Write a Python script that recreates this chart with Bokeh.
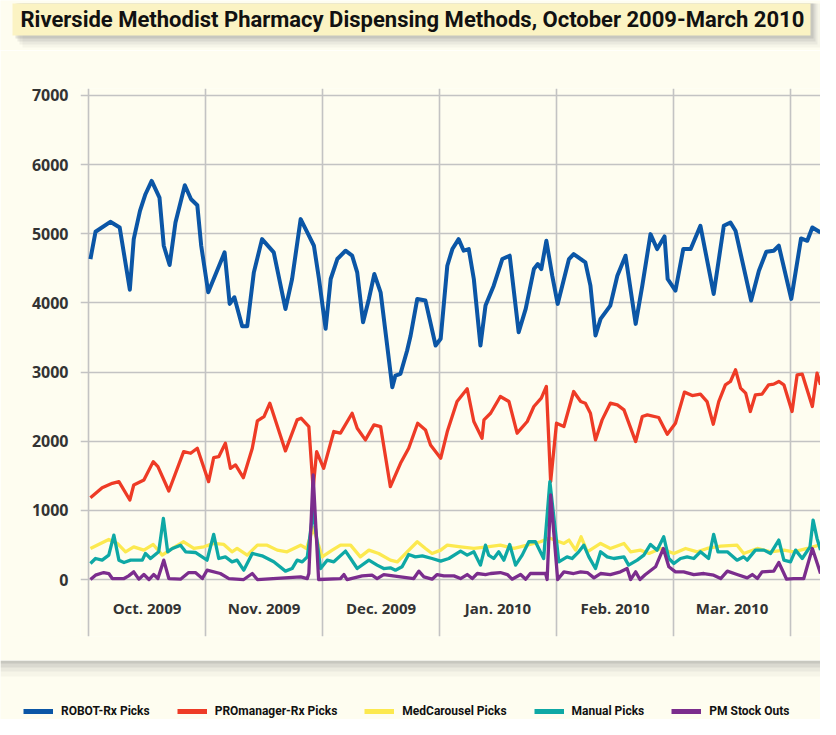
from bokeh.plotting import figure
from bokeh.layouts import column
from bokeh.models import Range1d, FixedTicker, Legend, LegendItem, ColumnDataSource
from bokeh.core.properties import value
from bokeh.embed import file_html
from bokeh.resources import INLINE

TITLE = "Riverside Methodist Pharmacy Dispensing Methods, October 2009-March 2010"
MONTHS = ["Oct. 2009", "Nov. 2009", "Dec. 2009", "Jan. 2010", "Feb. 2010", "Mar. 2010"]
Y_TICKS = [0, 1000, 2000, 3000, 4000, 5000, 6000, 7000]
SERIES = ["ROBOT-Rx Picks", "PROmanager-Rx Picks", "MedCarousel Picks", "Manual Picks", "PM Stock Outs"]

# x = day index (30-day gridline spacing, day 0 = start of October 2009)
robot_day = [0.5,1.8,5.6,8.0,10.6,11.6,13.2,14.6,16.2,18.2,
             19.3,20.8,22.3,24.7,26.3,27.9,28.9,30.7,34.9,36.2,
             37.4,39.4,40.7,42.4,44.5,47.5,50.5,52.2,54.4,56.1,
             57.8,59.1,60.8,62.1,63.8,65.9,67.6,68.9,70.4,71.9,
             73.3,74.9,77.9,78.7,80.0,81.7,82.6,84.3,86.4,89.0,
             90.3,92.0,93.3,94.9,96.2,97.5,98.8,100.5,101.8,103.9,
             106.1,108.0,110.3,112.1,114.2,115.2,116.1,117.4,118.9,120.3,
             123.2,124.4,127.4,128.7,130.0,131.3,133.8,135.6,137.7,140.3,
             142.0,144.1,145.8,147.7,148.5,150.5,152.5,154.4,156.9,160.3,
             162.9,164.6,165.9,169.9,171.9,173.8,175.7,177.0,180.2,182.7,
             184.3,185.6,187.7]
robot_val = [4635,5029,5173,5091,4192,4923,5332,5572,5764,5524,
             4827,4548,5163,5702,5500,5413,4827,4154,4731,3986,
             4082,3663,3663,4442,4923,4731,3913,4346,5212,5019,
             4827,4346,3625,4346,4635,4755,4683,4442,3721,4058,
             4418,4154,2780,2950,2975,3312,3529,4058,4034,3385,
             3481,4538,4779,4923,4755,4779,4346,3385,3962,4250,
             4635,4683,3577,3913,4490,4563,4490,4899,4394,3986,
             4635,4707,4587,4250,3529,3769,3962,4394,4683,3697,
             4250,4995,4779,4962,4346,4178,4779,4779,5115,4130,
             5115,5163,5043,4034,4466,4740,4755,4827,4058,4933,
             4899,5091,5019]

pro_day = [0.5,3.5,6.1,7.8,10.6,11.6,14.2,16.6,17.8,20.6,
           24.4,26.2,27.9,30.8,32.1,33.4,35.1,36.4,37.7,39.7,
           42.0,43.3,45.0,46.5,50.5,53.5,54.5,56.5,57.6,58.5,
           60.3,62.9,64.6,67.6,68.9,71.0,73.2,74.9,77.4,80.0,
           82.1,84.4,86.4,87.7,90.3,92.0,94.5,97.1,98.8,100.9,
           101.4,103.1,105.6,107.8,109.9,112.5,114.2,116.1,117.4,118.5,
           120.0,121.9,124.4,126.2,127.4,128.7,130.0,131.7,133.8,135.6,
           137.3,140.3,142.0,143.3,146.2,148.4,150.5,152.8,154.8,156.9,
           158.6,160.2,161.6,163.3,164.6,165.9,167.2,168.5,169.7,171.0,
           172.7,174.4,175.7,177.0,178.3,180.4,181.7,183.0,185.6,186.8,
           187.7]
pro_val = [1183,1328,1391,1415,1150,1367,1439,1705,1633,1280,
           1850,1826,1898,1415,1763,1777,1971,1608,1657,1473,
           1898,2294,2357,2550,1860,2309,2333,2212,1319,1850,
           1608,2140,2116,2405,2188,2019,2236,2212,1343,1681,
           1898,2260,2164,1946,1753,2140,2574,2758,2285,2043,
           2309,2405,2647,2574,2116,2285,2502,2623,2792,1415,
           2260,2212,2719,2574,2550,2405,2019,2309,2550,2526,
           2454,1995,2357,2381,2343,2101,2260,2710,2661,2681,
           2574,2246,2574,2816,2864,3033,2768,2695,2430,2671,
           2681,2816,2826,2864,2816,2430,2961,2971,2502,2985,
           2816]

med_day = [0.5,3.1,5.2,7.4,9.5,11.6,14.2,16.6,18.9,21.5,
           24.4,27.0,29.6,32.1,34.7,36.8,38.1,40.7,43.3,45.8,
           48.4,50.9,54.4,55.9,57.6,59.9,62.5,64.6,67.2,69.7,
           71.9,74.4,77.4,79.2,81.7,84.3,86.4,88.1,90.3,92.0,
           95.4,98.8,102.2,105.6,109.1,112.5,115.9,118.2,121.9,123.2,
           124.9,126.3,127.9,131.3,133.8,137.3,139.0,141.5,143.7,146.7,
           150.1,153.1,156.1,158.6,162.1,166.3,168.0,171.5,174.9,178.3,
           180.8,184.3,187.3]
med_val = [449,522,580,522,401,473,425,507,353,449,
           546,449,473,522,507,401,449,353,497,497,
           425,401,497,449,750,328,425,497,497,328,
           425,377,280,256,401,546,449,377,425,497,
           473,449,473,497,449,497,546,600,522,570,
           425,618,401,522,449,522,401,425,377,449,
           377,449,401,449,483,497,377,449,401,425,
           401,449,497]

man_day = [0.5,1.8,3.5,5.2,6.5,7.8,9.1,10.8,13.8,14.6,
           15.9,18.0,19.2,20.3,21.5,23.6,24.9,27.4,30.4,32.1,
           33.4,35.1,36.8,38.1,39.8,42.0,44.5,47.5,50.5,52.2,
           53.5,54.8,56.1,57.6,59.5,61.2,62.9,65.9,67.2,68.9,
           71.9,74.0,75.7,77.4,78.7,80.4,82.1,83.8,85.6,88.1,
           90.3,92.4,95.4,97.1,98.8,100.5,101.8,102.6,103.9,105.2,
           106.5,108.0,109.5,111.2,112.9,114.6,116.7,118.3,120.6,122.7,
           124.0,125.7,127.0,128.3,130.0,131.3,133.0,134.7,137.3,138.5,
           140.7,142.4,144.1,145.8,147.5,148.8,150.1,151.8,153.5,155.2,
           156.9,159.0,160.3,161.4,163.8,166.3,168.0,168.9,171.0,173.2,
           174.9,177.0,178.3,180.0,181.3,183.0,185.0,185.8,186.8,187.7]
man_val = [232,304,280,353,642,280,246,280,280,377,
           304,401,884,401,449,497,401,391,280,652,
           304,328,256,280,135,377,343,256,121,159,
           280,256,328,1000,159,280,256,411,304,159,
           280,208,159,169,135,184,362,328,343,304,
           266,304,411,353,401,208,497,353,304,401,
           280,507,208,353,546,546,304,1415,256,328,
           304,401,497,328,159,401,328,304,328,208,
           280,353,507,425,618,304,232,304,328,304,
           401,304,652,401,401,280,328,280,425,425,
           377,570,280,256,425,304,473,860,594,425]

pm_day = [0.5,1.8,3.9,5.2,6.1,9.1,10.3,11.6,12.9,14.2,
          15.5,16.7,17.8,19.3,20.6,23.6,25.7,27.4,29.2,30.4,
          33.8,36.0,39.8,42.0,43.3,54.4,56.1,56.5,57.6,59.0,
          64.6,65.5,66.3,70.2,72.7,74.0,75.7,83.4,84.7,86.0,
          88.1,89.4,91.1,93.7,95.4,97.1,98.4,99.7,101.8,103.1,
          105.6,107.4,108.6,110.8,112.1,113.3,117.2,117.6,118.5,120.3,
          121.9,124.4,126.2,127.9,129.6,131.3,133.8,136.4,138.1,139.0,
          140.3,141.4,142.8,145.4,147.4,148.8,150.5,152.6,155.2,157.8,
          160.3,162.1,163.8,166.3,168.9,170.2,171.5,172.7,175.7,177.0,
          179.0,180.8,183.4,185.6,187.7]
pm_val = [0,63,101,87,14,14,53,111,5,72,
          0,72,14,280,14,5,101,101,14,135,
          87,14,0,87,0,39,14,87,1512,0,
          14,72,0,53,63,14,72,14,121,39,
          5,72,53,53,14,72,14,87,72,87,
          101,72,5,72,5,87,87,0,1222,0,
          111,87,111,101,24,87,72,111,159,0,
          111,0,72,184,449,184,111,111,72,87,
          63,14,121,72,24,72,14,111,121,246,
          5,14,14,449,87]

COLORS = ["#0b56a6", "#ee3b26", "#fce94f", "#0ea8a5", "#7b2d8d"]
WIDTHS = [4.0, 3.3, 3.3, 3.3, 3.3]
BG = "#fefdf0"
TITLE_BG = "#fbf3c3"
GRID = "#c3c3c3"
TEXT = "#333333"
HEAD_FONT = "Roboto"
W = 820


def no_align(f):
    try:
        f.frame_align = False
    except Exception:
        pass


def deco_fig(h):
    f = figure(width=W, height=h, output_backend="svg", toolbar_location=None,
               x_range=Range1d(0, W), y_range=Range1d(h, 0),
               min_border=0, min_border_left=0, min_border_right=0,
               min_border_top=0, min_border_bottom=0)
    f.axis.visible = False
    f.grid.visible = False
    f.outline_line_color = None
    f.background_fill_color = BG
    f.border_fill_color = BG
    no_align(f)
    return f


# ---- title strip ----
ft = deco_fig(50)
for dx, dy, a in [(10, 12, 0.06), (7, 9, 0.09), (5, 6, 0.13), (3, 3, 0.18)]:
    ft.quad(left=12 + dx, right=810 + dx, top=3, bottom=35 + dy, fill_color="#777777",
            fill_alpha=a, line_color=None)
ft.quad(left=12, right=810, top=3, bottom=35, fill_color=TITLE_BG, line_color=None)
ft.text(x=[20], y=[19], text=[TITLE], text_font=value(HEAD_FONT), text_font_size="22px",
        text_font_style="bold", text_color="#111111", text_baseline="middle")

# ---- main chart ----
MONTH_SPAN = 30
p = figure(width=W, height=610, output_backend="svg", toolbar_location=None,
           x_range=Range1d(-2.05, 187.69), y_range=Range1d(-824, 7101),
           min_border_left=80, min_border_right=0, min_border_top=38, min_border_bottom=24)
no_align(p)
p.background_fill_color = BG
p.border_fill_color = BG
p.outline_line_color = None

p.xaxis.visible = False
p.xaxis.ticker = FixedTicker(ticks=[MONTH_SPAN * i for i in range(len(MONTHS) + 1)])
p.xgrid.grid_line_color = GRID
p.xgrid.grid_line_width = 1.6
p.ygrid.grid_line_color = GRID
p.ygrid.grid_line_width = 1.6
p.yaxis.ticker = FixedTicker(ticks=Y_TICKS)
p.yaxis.axis_line_color = None
p.yaxis.major_tick_line_color = None
p.yaxis.minor_tick_line_color = None
p.yaxis.major_tick_out = 0
p.yaxis.major_tick_in = 0
p.yaxis.major_label_standoff = 12
p.yaxis.major_label_text_font = "Open Sans"
p.yaxis.major_label_text_font_size = "16px"
p.yaxis.major_label_text_font_style = "bold"
p.yaxis.major_label_text_color = TEXT

msrc = ColumnDataSource(dict(x=[MONTH_SPAN * i + MONTH_SPAN / 2 for i in range(len(MONTHS))],
                             y=[-405] * len(MONTHS), t=MONTHS))
p.text(x="x", y="y", text="t", source=msrc, text_align="center", text_baseline="middle",
       text_font=value("Open Sans"), text_font_size="15px", text_font_style="bold",
       text_color=TEXT)

for (xs, ys), c, w in zip([(robot_day, robot_val), (pro_day, pro_val), (med_day, med_val),
                           (man_day, man_val), (pm_day, pm_val)], COLORS, WIDTHS):
    p.line(xs, ys, line_color=c, line_width=w, line_join="round")

# ---- legend strip (with panel shadow at its top) ----
fl = deco_fig(59)
for hgt, a in [(16, 0.06), (11, 0.09), (7, 0.13), (3, 0.18)]:
    fl.quad(left=0, right=826, top=0, bottom=hgt, fill_color="#777777", fill_alpha=a, line_color=None)
items = []
nan = float("nan")
for name, c in zip(SERIES, COLORS):
    r = fl.line(x=[nan, nan], y=[nan, nan], line_color=c, line_width=5)
    items.append(LegendItem(label=name, renderers=[r]))
lg = Legend(items=items, location=(23, 0), orientation="horizontal", padding=0, margin=0,
            spacing=27, border_line_color=None, background_fill_alpha=0, glyph_width=30,
            glyph_height=16, label_standoff=8, label_text_font=HEAD_FONT,
            label_text_font_size="12px", label_text_font_style="bold", label_text_color="#111111")
fl.add_layout(lg)

layout = column(ft, p, fl, spacing=0)
open("out.html", "w").write(file_html(layout, INLINE))
